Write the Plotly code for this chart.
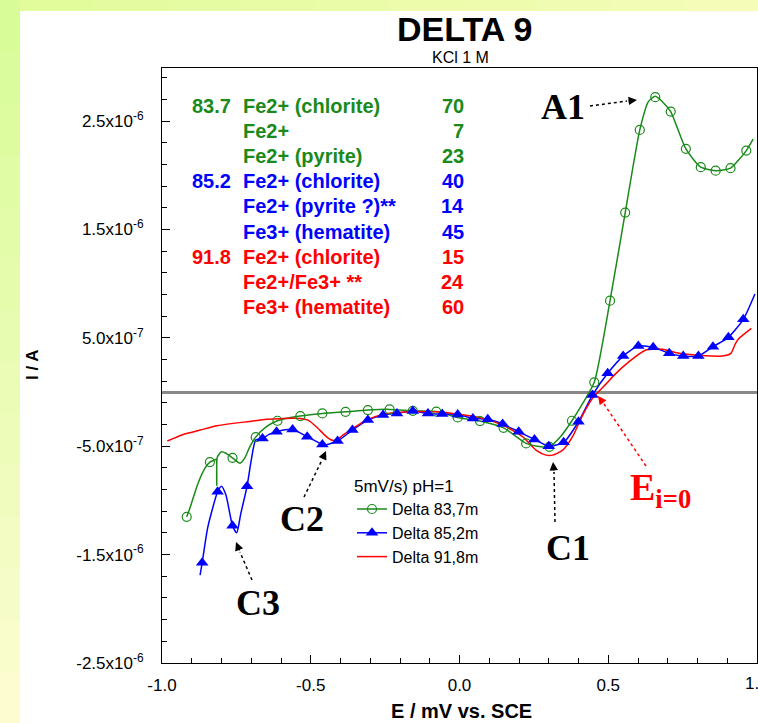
import plotly.graph_objects as go

# ---------------- data (E in V vs SCE, I in microampere before scaling) -------------
green_E = [-0.917, -0.906, -0.88, -0.855, -0.839, -0.825, -0.818, -0.816, -0.814, -0.800, -0.785,
           -0.763, -0.738, -0.722, -0.705, -0.685, -0.649, -0.612, -0.575, -0.535, -0.461, -0.383,
           -0.308, -0.235, -0.157, -0.078, -0.006, 0.069, 0.148, 0.224, 0.262, 0.302, 0.340, 0.378,
           0.415, 0.453, 0.506, 0.557, 0.606, 0.635, 0.658, 0.685, 0.710, 0.761, 0.811, 0.861, 0.911,
           0.964, 0.987]
green_I = [-1.151, -1.07, -0.85, -0.70, -0.646, -0.63, -0.62, -0.86, -0.60, -0.551, -0.565, -0.607,
           -0.656, -0.61, -0.505, -0.416, -0.320, -0.265, -0.24, -0.222, -0.197, -0.182, -0.166,
           -0.160, -0.173, -0.18, -0.234, -0.268, -0.330, -0.474, -0.50, -0.505, -0.41, -0.265, -0.10,
           0.090, 0.843, 1.656, 2.419, 2.68, 2.73, 2.67, 2.588, 2.244, 2.075, 2.043, 2.066, 2.228, 2.333]
green_marker_E = [-0.917, -0.839, -0.763, -0.685, -0.612, -0.535, -0.461, -0.383, -0.308, -0.235,
                  -0.157, -0.078, -0.006, 0.069, 0.148, 0.224, 0.302, 0.378, 0.453, 0.506, 0.557,
                  0.606, 0.658, 0.710, 0.761, 0.811, 0.861, 0.911, 0.964]
green_marker_I = [-1.151, -0.646, -0.607, -0.416, -0.265, -0.222, -0.197, -0.182, -0.166, -0.160,
                  -0.173, -0.18, -0.234, -0.268, -0.330, -0.474, -0.505, -0.265, 0.090, 0.843, 1.656,
                  2.419, 2.721, 2.588, 2.244, 2.075, 2.043, 2.066, 2.228]

blue_E = [-0.872, -0.865, -0.846, -0.813, -0.800, -0.785, -0.763, -0.749, -0.735, -0.714, -0.700,
          -0.685, -0.662, -0.640, -0.615, -0.561, -0.512, -0.461, -0.453, -0.410, -0.360, -0.308,
          -0.257, -0.210, -0.157, -0.106, -0.058, -0.006, 0.045, 0.095, 0.145, 0.199, 0.252, 0.300,
          0.350, 0.400, 0.447, 0.498, 0.550, 0.601, 0.651, 0.705, 0.752, 0.803, 0.852, 0.904, 0.954,
          0.993]
blue_I = [-1.69, -1.576, -1.246, -0.920, -0.868, -0.95, -1.234, -1.299, -1.12, -0.868, -0.628,
          -0.443, -0.428, -0.39, -0.366, -0.345, -0.412, -0.483, -0.489, -0.452, -0.351, -0.259,
          -0.212, -0.197, -0.175, -0.197, -0.203, -0.206, -0.243, -0.252, -0.295, -0.366, -0.437,
          -0.499, -0.464, -0.274, -0.028, 0.173, 0.332, 0.425, 0.413, 0.357, 0.332, 0.332, 0.418,
          0.505, 0.671, 0.905]
blue_marker_E = [-0.865, -0.813, -0.763, -0.714, -0.662, -0.615, -0.561, -0.512, -0.461, -0.410,
                 -0.360, -0.308, -0.257, -0.210, -0.157, -0.106, -0.058, -0.006, 0.045, 0.095, 0.145,
                 0.199, 0.252, 0.300, 0.350, 0.400, 0.447, 0.498, 0.550, 0.601, 0.651, 0.705, 0.752,
                 0.803, 0.852, 0.904, 0.954]
blue_marker_I = [-1.576, -0.920, -1.234, -0.868, -0.428, -0.366, -0.345, -0.412, -0.483, -0.452,
                 -0.351, -0.259, -0.212, -0.197, -0.175, -0.197, -0.203, -0.206, -0.243, -0.252,
                 -0.295, -0.366, -0.437, -0.499, -0.464, -0.274, -0.028, 0.173, 0.332, 0.425, 0.413,
                 0.357, 0.332, 0.332, 0.418, 0.505, 0.671]

red_E = [-0.982, -0.929, -0.872, -0.816, -0.761, -0.705, -0.649, -0.593, -0.537, -0.509, -0.481,
         -0.453, -0.431, -0.414, -0.392, -0.358, -0.313, -0.257, -0.168, -0.078, -0.022, 0.067,
         0.145, 0.212, 0.257, 0.291, 0.313, 0.347, 0.380, 0.414, 0.447, 0.498, 0.514, 0.570, 0.626,
         0.682, 0.738, 0.805, 0.884, 0.912, 0.928, 0.940, 0.981]
red_I = [-0.452, -0.391, -0.351, -0.311, -0.289, -0.271, -0.252, -0.243, -0.243, -0.259, -0.320,
         -0.397, -0.443, -0.443, -0.397, -0.335, -0.259, -0.206, -0.182, -0.182, -0.197, -0.234,
         -0.305, -0.412, -0.536, -0.582, -0.582, -0.536, -0.412, -0.212, -0.058, 0.09, 0.14, 0.28,
         0.388, 0.394, 0.357, 0.339, 0.332, 0.357, 0.450, 0.496, 0.588]

series_names = ["Delta 83,7m", "Delta 85,2m", "Delta 91,8m"]
legend_title = "5mV/s) pH=1"

y_tick_vals = [-2.5e-6, -1.5e-6, -0.5e-6, 0.5e-6, 1.5e-6, 2.5e-6]
y_tick_text = ["-2.5x10<sup>-6</sup>", "-1.5x10<sup>-6</sup>", "-5.0x10<sup>-7</sup>",
               "5.0x10<sup>-7</sup>", "1.5x10<sup>-6</sup>", "2.5x10<sup>-6</sup>"]
x_tick_vals = [-1.0, -0.5, 0.0, 0.5, 1.0]
x_tick_text = ["-1.0", "-0.5", "0.0", "0.5", ""]
x_edge_label = "1.0"

table_depth = ["83.7", "", "", "85.2", "", "", "91.8", "", ""]
table_phase = ["Fe2+ (chlorite)", "Fe2+", "Fe2+ (pyrite)", "Fe2+ (chlorite)", "Fe2+ (pyrite ?)**",
               "Fe3+ (hematite)", "Fe2+ (chlorite)", "Fe2+/Fe3+ **", "Fe3+ (hematite)"]
table_pct = ["70", "7", "23", "40", "14", "45", "15", "24", "60"]
table_group = [0, 0, 0, 1, 1, 1, 2, 2, 2]

# ---------------- styling ----------------
GREEN = "#1a8a1a"
BLUE = "#0000ff"
RED = "#ff0000"
colors = [GREEN, BLUE, RED]
ARIAL = "Arial, Liberation Sans, sans-serif"
SERIF = "Times New Roman, Liberation Serif, serif"
W, H = 758, 723
PL, PR, PT, PB = 162, 757, 68, 663


def px(x):
    return (x - PL) / (PR - PL)


def py(y):
    return (PB - y) / (PB - PT)


def amp(vals):
    return [v * 1e-6 for v in vals]


fig = go.Figure()

# line traces
for E, I, c in [(green_E, green_I, GREEN), (blue_E, blue_I, BLUE), (red_E, red_I, RED)]:
    fig.add_trace(go.Scatter(x=E, y=amp(I), mode="lines", showlegend=False, hoverinfo="skip",
                             line=dict(color=c, width=1.5, shape="spline", smoothing=0.6)))
# marker traces
fig.add_trace(go.Scatter(x=green_marker_E, y=amp(green_marker_I), mode="markers", showlegend=False,
                         marker=dict(symbol="circle-open", size=9, color=GREEN, line=dict(width=1.2))))
fig.add_trace(go.Scatter(x=blue_marker_E, y=amp(blue_marker_I), mode="markers", showlegend=False,
                         marker=dict(symbol="triangle-up", size=11, color=BLUE)))
# legend entries
fig.add_trace(go.Scatter(x=[None], y=[None], mode="lines+markers", name=series_names[0],
                         line=dict(color=GREEN, width=1.5),
                         marker=dict(symbol="circle-open", size=9, color=GREEN, line=dict(width=1.2))))
fig.add_trace(go.Scatter(x=[None], y=[None], mode="lines+markers", name=series_names[1],
                         line=dict(color=BLUE, width=1.5),
                         marker=dict(symbol="triangle-up", size=11, color=BLUE)))
fig.add_trace(go.Scatter(x=[None], y=[None], mode="lines", name=series_names[2],
                         line=dict(color=RED, width=1.5)))

shapes = []
# decorative background strips
n = 14
for i in range(n):
    t = i / (n - 1)
    r = int(0xd8 + (0xfc - 0xd8) * t)
    g = 0xfc
    b = int(0x98 + (0xd0 - 0x98) * t)
    y0 = i * H / n
    y1 = (i + 1) * H / n
    shapes.append(dict(type="rect", xref="paper", yref="paper", layer="below",
                       x0=px(0), x1=px(20), y0=py(y1 + 1), y1=py(y0),
                       fillcolor=f"rgb({r},{g},{b})", line=dict(width=0)))
m = 10
for i in range(m):
    t = i / (m - 1)
    r = int(0xe2 + (0xf4 - 0xe2) * t)
    b = int(0x9c + (0xb8 - 0x9c) * t)
    shapes.append(dict(type="rect", xref="paper", yref="paper", layer="below",
                       x0=px(20 + i * (W - 20) / m), x1=px(20 + (i + 1) * (W - 20) / m + 1),
                       y0=py(11), y1=py(0),
                       fillcolor=f"rgb({r},252,{b})", line=dict(width=0)))

annotations = []


def arrow(x0, y0, x1, y1, tx, ty, color="black"):
    shapes.append(dict(type="line", xref="paper", yref="paper", x0=px(x0), y0=py(y0),
                       x1=px(x1), y1=py(y1), line=dict(color=color, width=1.5, dash="dot")))
    dx, dy = x1 - tx, y1 - ty
    annotations.append(dict(xref="paper", yref="paper", x=px(tx), y=py(ty), ax=dx, ay=dy,
                            text="", showarrow=True, arrowhead=2, arrowsize=1.3, arrowwidth=1.3,
                            arrowcolor=color, standoff=0))


arrow(590, 106, 627, 101, 637, 100)
arrow(555, 522, 554, 472, 553, 462)
arrow(304, 497, 322, 460, 326, 451)
arrow(252, 580, 240, 552, 236, 542)
arrow(646, 466, 604, 404, 598, 396, color=RED)

for txt, x, y in [("A1", 563, 107), ("C1", 568, 548), ("C2", 302, 519), ("C3", 258, 603)]:
    annotations.append(dict(xref="paper", yref="paper", x=px(x), y=py(y), text=f"<b>{txt}</b>",
                            showarrow=False, font=dict(family=SERIF, size=36, color="black"),
                            xanchor="center", yanchor="middle"))
annotations.append(dict(xref="paper", yref="paper", x=px(628), y=py(490), text="<b>E<sub>i=0</sub></b>",
                        showarrow=False, font=dict(family=SERIF, size=38, color=RED),
                        xanchor="left", yanchor="middle"))

# titles
annotations.append(dict(xref="paper", yref="paper", x=px(464), y=py(29), text="<b>DELTA 9</b>",
                        showarrow=False, font=dict(family=ARIAL, size=34, color="black"),
                        xanchor="center", yanchor="middle"))
annotations.append(dict(xref="paper", yref="paper", x=px(460), y=py(57), text="KCl 1 M",
                        showarrow=False, font=dict(family=ARIAL, size=16, color="black"),
                        xanchor="center", yanchor="middle"))
annotations.append(dict(xref="paper", yref="paper", x=px(461), y=py(711), text="<b>E / mV vs. SCE</b>",
                        showarrow=False, font=dict(family=ARIAL, size=20, color="black"),
                        xanchor="center", yanchor="middle"))
annotations.append(dict(xref="paper", yref="paper", x=px(32), y=py(365), text="<b>I / A</b>",
                        showarrow=False, textangle=-90, font=dict(family=ARIAL, size=17, color="black"),
                        xanchor="center", yanchor="middle"))
# right-most x tick label (cut by the picture edge as in the reference)
annotations.append(dict(xref="x", yref="paper", x=x_tick_vals[-1], y=py(683), text=x_edge_label,
                        showarrow=False, font=dict(family=ARIAL, size=17, color="black"),
                        xanchor="center", yanchor="middle"))

# composition table
for i in range(len(table_phase)):
    c = colors[table_group[i]]
    yy = py(106 + i * 25.1)
    f = dict(family=ARIAL, size=20, color=c)
    if table_depth[i]:
        annotations.append(dict(xref="paper", yref="paper", x=px(190), y=yy, text=f"<b>{table_depth[i]}</b>",
                                showarrow=False, font=f, xanchor="left", yanchor="middle"))
    annotations.append(dict(xref="paper", yref="paper", x=px(241), y=yy, text=f"<b>{table_phase[i]}</b>",
                            showarrow=False, font=f, xanchor="left", yanchor="middle"))
    annotations.append(dict(xref="paper", yref="paper", x=px(466), y=yy, text=f"<b>{table_pct[i]}</b>",
                            showarrow=False, font=f, xanchor="right", yanchor="middle"))

fig.update_layout(
    width=W, height=H,
    margin=dict(l=PL, r=W - PR, t=PT, b=H - PB, pad=0),
    paper_bgcolor="white", plot_bgcolor="white",
    font=dict(family=ARIAL, color="black"),
    showlegend=True,
    legend=dict(x=px(352), y=py(470), xanchor="left", yanchor="top",
                bgcolor="rgba(0,0,0,0)", borderwidth=0,
                font=dict(family=ARIAL, size=16, color="black"),
                title=dict(text=legend_title, font=dict(family=ARIAL, size=17, color="black")),
                tracegroupgap=0),
    shapes=shapes,
    annotations=annotations,
    xaxis=dict(range=[-1.0, 1.0], tickmode="array", tickvals=x_tick_vals, ticktext=x_tick_text,
               ticks="inside", ticklen=8, tickwidth=1, tickcolor="black",
               minor=dict(dtick=0.1, tick0=-1.0, ticks="inside", ticklen=5, tickwidth=1, tickcolor="black"),
               showline=True, linecolor="black", linewidth=1.2, mirror=True,
               showgrid=False, zeroline=False,
               tickfont=dict(family=ARIAL, size=17, color="black"), ticklabelstandoff=6),
    yaxis=dict(range=[-2.5e-6, 2.99e-6], tickmode="array", tickvals=y_tick_vals, ticktext=y_tick_text,
               ticks="inside", ticklen=8, tickwidth=1, tickcolor="black",
               minor=dict(dtick=2e-7, tick0=-2.5e-6, ticks="inside", ticklen=5, tickwidth=1, tickcolor="black"),
               showline=True, linecolor="black", linewidth=1.2, mirror=True,
               showgrid=False, zeroline=True, zerolinecolor="#888888", zerolinewidth=3,
               tickfont=dict(family=ARIAL, size=17, color="black"), ticklabelstandoff=14),
)

fig.write_html("out.html", config={"displayModeBar": False},
               post_script="document.body.style.margin='0';document.body.style.overflow='hidden';")
